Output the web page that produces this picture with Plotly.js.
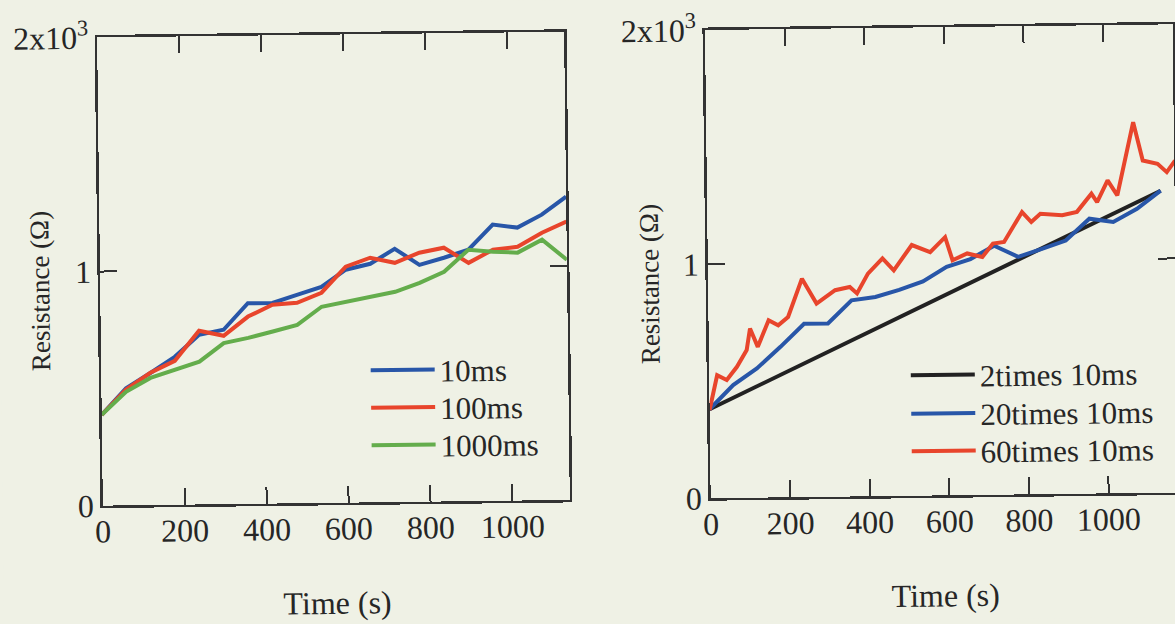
<!DOCTYPE html>
<html><head><meta charset="utf-8">
<script src="https://cdn.plot.ly/plotly-3.0.1.min.js"></script>
<style>
html,body{margin:0;padding:0;width:1175px;height:624px;overflow:hidden;background:#eff1e5;}
#chart{width:1180px;height:624px;transform:rotate(-0.7deg);transform-origin:587.5px 312px;}
</style></head><body><div id="chart"></div>
<script>
// ---- Left panel: pulse width ----
const timeLeft = [0,60,120,180,240,300,360,420,480,540,600,660,720,780,840,900,960,1020,1080,1140];
const r10ms   = [388,500,564,632,725,745,857,857,890,923,995,1019,1082,1012,1041,1074,1180,1166,1220,1296];
const r100ms  = [388,495,565,615,742,719,800,849,856,898,1008,1045,1022,1064,1084,1018,1073,1084,1143,1189];
const r1000ms = [388,485,543,575,610,688,709,735,762,838,858,878,898,935,981,1074,1064,1059,1113,1026];

// ---- Right panel: number of pulses ----
const time2x  = [0,1140];
const r2x     = [380,1290];
const time20x = [0,60,120,180,240,300,360,420,480,540,600,660,720,780,840,900,960,1020,1080,1140];
const r20x    = [380,482,552,643,740,740,838,851,880,915,976,1008,1064,1015,1048,1082,1174,1159,1214,1290];
const time60x = [0,20,44,70,95,104,123,151,175,200,236,272,319,356,374,402,439,467,513,559,597,615,652,690,717,745,791,814,837,892,929,966,980,1007,1031,1073,1096,1133,1156,1177];
const r60x    = [377,525,504,560,631,723,644,757,735,770,933,826,882,895,867,951,1015,964,1071,1040,1103,1004,1032,1016,1073,1079,1206,1163,1198,1190,1204,1281,1245,1337,1272,1584,1420,1405,1369,1418];

const xTicks = [0,200,400,600,800,1000];
const yTicks = [0,1000,2000];
const yTickText = ['0','1','2x10<sup>3</sup>'];
const names = ['10ms','100ms','1000ms','2times 10ms','20times 10ms','60times 10ms'];

const W = 1180, H = 624;
const px = v => v / W, py = v => 1 - v / H;
const FONT = 'Liberation Serif, Times New Roman, serif';
const INK = '#262626';
const BG = '#eff1e5';
const BLUE = '#2856a8', RED = '#e8452c', GREEN = '#64ad4c', BLACK = '#222222';
const LW = 4;

const axBase = {
  showline: true, linewidth: 2.5, linecolor: '#333', mirror: 'allticks',
  ticks: 'inside', ticklen: 17, tickwidth: 2, tickcolor: '#333',
  showgrid: false, zeroline: false, fixedrange: true,
  tickfont: {family: FONT, size: 32, color: INK}
};
const yDom = [1 - 499.7 / H, 1 - 31.5 / H];

const traces = [
  {x: timeLeft, y: r10ms,   name: names[0], line: {color: BLUE,  width: LW}, legend: 'legend'},
  {x: timeLeft, y: r100ms,  name: names[1], line: {color: RED,   width: LW}, legend: 'legend2'},
  {x: timeLeft, y: r1000ms, name: names[2], line: {color: GREEN, width: LW}, legend: 'legend3'},
  {x: time2x,  y: r2x,  name: names[3], line: {color: BLACK, width: LW}, xaxis: 'x2', yaxis: 'y2', legend: 'legend4'},
  {x: time20x, y: r20x, name: names[4], line: {color: BLUE,  width: LW}, xaxis: 'x2', yaxis: 'y2', legend: 'legend5'},
  {x: time60x, y: r60x, name: names[5], line: {color: RED,   width: LW}, xaxis: 'x2', yaxis: 'y2', legend: 'legend6'}
].map(t => Object.assign({type: 'scatter', mode: 'lines', hoverinfo: 'skip'}, t));

const legBase = {
  xanchor: 'left', yanchor: 'top', bgcolor: 'rgba(0,0,0,0)', borderwidth: 0,
  font: {family: FONT, size: 31, color: INK}, itemwidth: 64, tracegroupgap: 0
};
const leg = (x, yTop) => Object.assign({}, legBase, {x: px(x), y: py(yTop)});

const titleFont = {family: FONT, size: 32, color: INK};
const yTitleFont = {family: FONT, size: 27, color: INK};
const xExtra = {tickvals: xTicks, ticklabelstandoff: -4};
const layout = {
  width: W, height: H,
  margin: {l: 0, r: 0, t: 0, b: 0},
  paper_bgcolor: BG, plot_bgcolor: BG,
  font: {family: FONT, color: INK},
  showlegend: true,
  xaxis: Object.assign({}, axBase, xExtra, {domain: [100.5 / W, 567.5 / W], range: [0, 1140], anchor: 'y',
    title: {text: 'Time (s)', font: titleFont, standoff: 46}}),
  yaxis: Object.assign({}, axBase, {domain: yDom, range: [0, 2000], tickvals: yTicks, ticktext: yTickText, anchor: 'x'}),
  xaxis2: Object.assign({}, axBase, xExtra, {domain: [708.4 / W, 1176 / W], range: [0, 1175], anchor: 'y2',
    title: {text: 'Time (s)', font: titleFont, standoff: 46}}),
  yaxis2: Object.assign({}, axBase, {domain: yDom, range: [0, 2000], tickvals: yTicks, ticktext: yTickText, anchor: 'x2'}),
  legend:  leg(365, 341),
  legend2: leg(365, 378.5),
  legend3: leg(365, 416),
  legend4: leg(905, 352.5),
  legend5: leg(905, 391),
  legend6: leg(905, 428.5),
  annotations: [
    {xref: 'paper', yref: 'paper', x: px(40), y: py(284.5), xanchor: 'center', yanchor: 'middle',
     text: 'Resistance (Ω)', textangle: -90, showarrow: false, font: yTitleFont},
    {xref: 'paper', yref: 'paper', x: px(650), y: py(285), xanchor: 'center', yanchor: 'middle',
     text: 'Resistance (Ω)', textangle: -90, showarrow: false, font: yTitleFont}
  ]
};

Plotly.newPlot('chart', traces, layout, {staticPlot: true, displayModeBar: false});
</script>
</body></html>
